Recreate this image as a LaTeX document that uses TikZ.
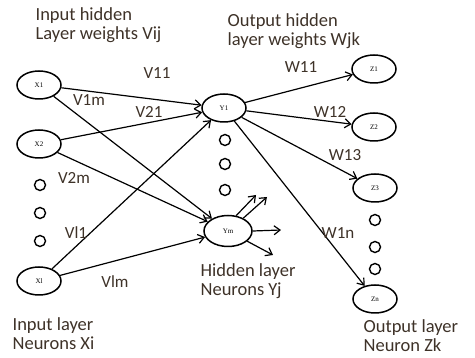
\documentclass[tikz,border=0pt]{standalone}
\usepackage{fontspec}
\setmainfont{Carlito}
\newfontfamily\neuronfont{Liberation Serif}
\usetikzlibrary{arrows.meta,shapes.geometric}
\definecolor{labelbrown}{RGB}{62,50,40}

\begin{document}
\begin{tikzpicture}
  [x=1pt, y=-1pt,
   >={Straight Barb[length=6pt,width=9pt]},
   line width=1.2pt,
   neuron/.style={ellipse,
                  draw=black,
                  line width=1.5pt,
                  minimum width=44pt,
                  minimum height=28pt,
                  inner sep=0pt,
                  font=\neuronfont\fontsize{7}{7}\selectfont},
   dotnode/.style={circle,
                   draw=black,
                   line width=1.4pt,
                   minimum size=11pt,
                   inner sep=0pt},
   weight/.style={text=labelbrown,
                  font=\fontsize{17}{17}\selectfont},
   caption/.style={anchor=north west,
                   align=left,
                   inner sep=0pt,
                   text=labelbrown,
                   font=\fontsize{18.5}{19}\selectfont},]
  \useasboundingbox (0,0) rectangle (475,358);
  % neurons
  \node[neuron] (x1) at (39,85)   {X1};
  \node[neuron] (x2) at (39,144)  {X2};
  \node[neuron] (xl) at (39,281)  {Xl};
  \node[neuron] (y1) at (224,108) {Y1};
  \node[neuron, minimum width=48pt, minimum height=31pt] (ym) at (228,231) {Ym};
  \node[neuron] (z1) at (374,69)  {Z1};
  \node[neuron] (z2) at (374,127) {Z2};
  \node[neuron] (z3) at (375,188) {Z3};
  \node[neuron] (zn) at (375,299) {Zn};
  % the small circles
  \foreach \y [count=\i] in {185,213,241}
    \node[dotnode] (xd\i) at (40,\y) {};
  \foreach \y [count=\i] in {140,164,190}
    \node[dotnode] (yd\i) at (225,\y) {};
  \foreach \y [count=\i] in {220,247,269}
    \node[dotnode] (zd\i) at (375,\y) {};
  % free ends of the outputs of Ym
  \coordinate (ym-o1) at (256,195);
  \coordinate (ym-o2) at (267,197);
  \coordinate (ym-o3) at (281,230);
  \coordinate (ym-o4) at (273,255);
  % connections
  \path[->]
  (x1) edge (y1)
       edge (ym)
  (x2) edge (y1)
       edge (ym)
  (xl) edge (y1)
       edge (ym)
  (y1) edge (z1)
       edge (z2)
       edge (z3)
       edge (zn)
  (ym.62)  edge (ym-o1)
  (ym.40)  edge (ym-o2)
  (ym.east) edge (ym-o3)
  (ym.-28) edge (ym-o4);
  % weights
  \node[weight] (v11) at (157,73)  {V11};
  \node[weight] (v1m) at (89,100)  {V1m};
  \node[weight] (v21) at (149,112) {V21};
  \node[weight] (v2m) at (74,178)  {V2m};
  \node[weight] (vl1) at (76,233)  {Vl1};
  \node[weight] (vlm) at (115,282) {Vlm};
  \node[weight] (w11) at (301,67)  {W11};
  \node[weight] (w12) at (330,112) {W12};
  \node[weight] (w13) at (345,155) {W13};
  \node[weight] (w1n) at (338,233) {W1n};
  % captions
  \node[caption] (cap-v) at (35,7)  {Input hidden\\Layer weights Vij};
  \node[caption] (cap-w) at (227,13) {Output hidden\\layer weights Wjk};
  \node[caption] (cap-y) at (200,263) {Hidden layer\\Neurons Yj};
  \node[caption] (cap-x) at (12,317) {Input layer\\Neurons Xi};
  \node[caption] (cap-z) at (363,319) {Output layer\\Neuron Zk};
\end{tikzpicture}
\end{document}
